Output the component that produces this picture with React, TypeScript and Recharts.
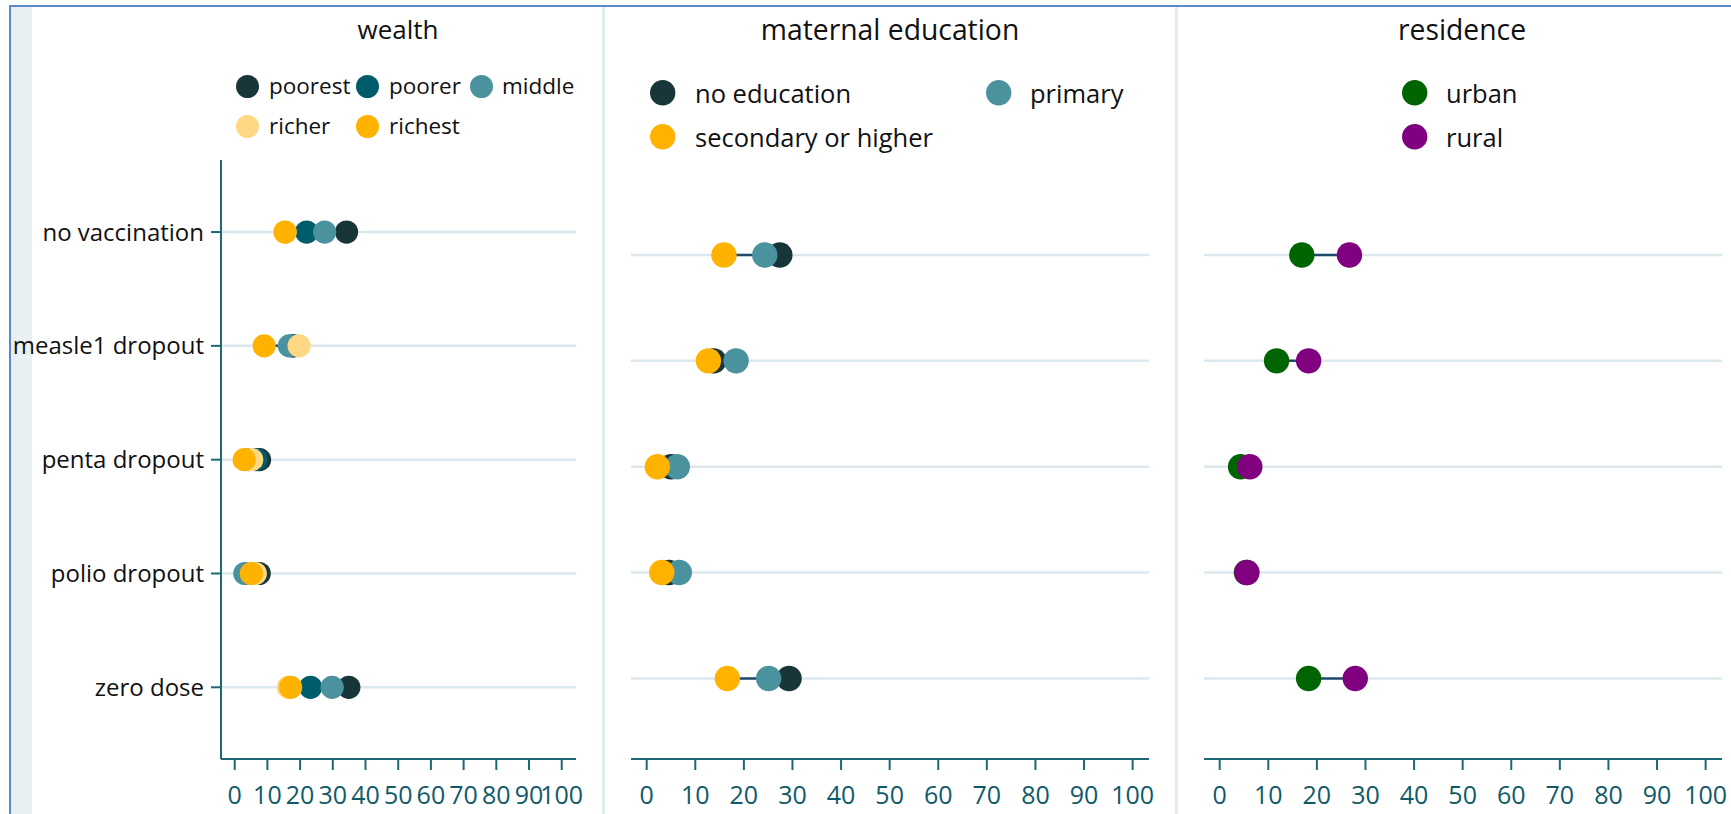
import React from "react";
import { ScatterChart, Scatter, XAxis, YAxis, CartesianGrid } from "recharts";

// ---------- data ----------
const CATEGORIES = ["no vaccination", "measle1 dropout", "penta dropout", "polio dropout", "zero dose"];
const ROW_TICKS = [0, 1, 2, 3, 4];
const X_TICKS = [0, 10, 20, 30, 40, 50, 60, 70, 80, 90, 100];

// wealth quintiles
const POOREST = [34.2, 18.0, 7.6, 7.5, 34.9];
const POORER = [22.0, 17.6, 6.5, 6.0, 23.2];
const MIDDLE = [27.5, 16.7, 4.5, 3.1, 29.8];
const RICHER = [15.4, 19.7, 5.2, 6.3, 16.4];
const RICHEST = [15.4, 9.0, 2.9, 5.1, 17.1];

// maternal education
const NO_EDUCATION = [27.4, 13.8, 5.0, 4.6, 29.3];
const PRIMARY = [24.3, 18.4, 6.3, 6.7, 25.1];
const SECONDARY = [15.9, 12.7, 2.2, 3.1, 16.6];

// residence
const URBAN = [16.9, 11.7, 4.3, 5.5, 18.3];
const RURAL = [26.7, 18.3, 6.2, 5.6, 27.9];

// ---------- styles ----------
const FONT = "'Open Sans', 'Noto Sans', sans-serif";
const AXIS = "#1d6876";
const TICK_TEXT = "#0f5a68";
const GRID = "#dde8ee";
const LINK = "#1f4a6e";

const C_POOREST = "#183539";
const C_POORER = "#005b6a";
const C_MIDDLE = "#4a929e";
const C_RICHER = "#ffd886";
const C_RICHEST = "#ffb300";
const C_URBAN = "#006400";
const C_RURAL = "#800080";

type Group = { name: string; color: string; values: number[] };

const WEALTH: Group[] = [
  { name: "poorest", color: C_POOREST, values: POOREST },
  { name: "poorer", color: C_POORER, values: POORER },
  { name: "middle", color: C_MIDDLE, values: MIDDLE },
  { name: "richer", color: C_RICHER, values: RICHER },
  { name: "richest", color: C_RICHEST, values: RICHEST },
];
const EDUCATION: Group[] = [
  { name: "no education", color: C_POOREST, values: NO_EDUCATION },
  { name: "primary", color: C_MIDDLE, values: PRIMARY },
  { name: "secondary or higher", color: C_RICHEST, values: SECONDARY },
];
const RESIDENCE: Group[] = [
  { name: "urban", color: C_URBAN, values: URBAN },
  { name: "rural", color: C_RURAL, values: RURAL },
];

const toPoints = (vals: number[]) => vals.map((v, i) => ({ x: v, y: i }));
const connectors = (groups: Group[]) =>
  CATEGORIES.map((_, i) => {
    const vals = groups.map((g) => g.values[i]);
    return [
      { x: Math.min(...vals), y: i },
      { x: Math.max(...vals), y: i },
    ];
  });

type PanelProps = {
  groups: Group[];
  left: number;
  right: number;
  top: number;
  xDomain: [number, number];
  yDomain: [number, number];
  showY: boolean;
  r: number;
};

function Panel({ groups, left, right, top, xDomain, yDomain, showY, r }: PanelProps) {
  const links = connectors(groups);
  return (
    <div style={{ position: "absolute", left: 0, top: 0 }}>
      <ScatterChart width={1731} height={814} margin={{ top, right, bottom: 5, left }}>
        <CartesianGrid vertical={false} syncWithTicks stroke={GRID} strokeWidth={2.5} />
        <XAxis
          type="number"
          dataKey="x"
          domain={xDomain}
          ticks={X_TICKS}
          allowDataOverflow
          interval={0}
          height={50}
          tickSize={11}
          tickMargin={16}
          axisLine={{ stroke: AXIS, strokeWidth: 2 }}
          tickLine={{ stroke: AXIS, strokeWidth: 2 }}
          tick={{ fill: TICK_TEXT, fontSize: 25, fontFamily: FONT }}
        />
        <YAxis
          type="number"
          dataKey="y"
          domain={yDomain}
          reversed
          ticks={ROW_TICKS}
          interval={0}
          allowDataOverflow
          hide={!showY}
          width={showY ? 221 : 0}
          tickSize={10}
          tickMargin={7}
          tickFormatter={(v: number) => CATEGORIES[v] ?? ""}
          axisLine={{ stroke: AXIS, strokeWidth: 2 }}
          tickLine={{ stroke: AXIS, strokeWidth: 2 }}
          tick={{ fill: "#111", fontSize: 24, fontFamily: FONT }}
        />
        {links.map((pts, i) => (
          <Scatter
            key={"link" + i}
            data={pts}
            line={{ stroke: LINK, strokeWidth: 2.5 }}
            lineType="joint"
            shape={() => <g />}
            isAnimationActive={false}
          />
        ))}
        {groups.map((g) => (
          <Scatter
            key={g.name}
            name={g.name}
            data={toPoints(g.values)}
            fill={g.color}
            isAnimationActive={false}
            shape={(p: any) => <circle cx={p.cx} cy={p.cy} r={r} fill={g.color} />}
          />
        ))}
      </ScatterChart>
    </div>
  );
}

function Title({ text, cx, baseline, fs }: { text: string; cx: number; baseline: number; fs: number }) {
  return (
    <div
      style={{
        position: "absolute",
        left: cx,
        top: baseline - 0.888 * fs,
        transform: "translateX(-50%)",
        fontFamily: FONT,
        fontSize: fs,
        lineHeight: `${fs}px`,
        color: "#111",
        whiteSpace: "nowrap",
      }}
    >
      {text}
    </div>
  );
}

function LegendItem({
  label,
  color,
  mx,
  my,
  tx,
  baseline,
  r,
  fs,
}: {
  label: string;
  color: string;
  mx: number;
  my: number;
  tx: number;
  baseline: number;
  r: number;
  fs: number;
}) {
  return (
    <>
      <svg
        style={{ position: "absolute", left: mx - r, top: my - r }}
        width={2 * r}
        height={2 * r}
      >
        <circle cx={r} cy={r} r={r} fill={color} />
      </svg>
      <div
        style={{
          position: "absolute",
          left: tx,
          top: baseline - 0.888 * fs,
          fontFamily: FONT,
          fontSize: fs,
          lineHeight: `${fs}px`,
          color: "#111",
          whiteSpace: "nowrap",
        }}
      >
        {label}
      </div>
    </>
  );
}

export default function App() {
  return (
    <div
      style={{
        position: "absolute",
        left: 0,
        top: 0,
        width: 1731,
        height: 814,
        background: "#ffffff",
        overflow: "hidden",
      }}
    >
      {/* frame */}
      <div style={{ position: "absolute", left: 9, top: 5, width: 1722, height: 2, background: "#5a8acb" }} />
      <div style={{ position: "absolute", left: 9, top: 5, width: 2, height: 809, background: "#5a8acb" }} />
      <div style={{ position: "absolute", left: 11, top: 7, width: 21, height: 807, background: "#e8f0f2" }} />
      {/* panel separators */}
      <div style={{ position: "absolute", left: 602, top: 7, width: 3, height: 807, background: "#e2ecf0" }} />
      <div style={{ position: "absolute", left: 1175, top: 7, width: 3, height: 807, background: "#e2ecf0" }} />

      <Panel
        groups={WEALTH}
        left={0}
        right={1731 - 576}
        top={160}
        xDomain={[-4.19, 104.37]}
        yDomain={[-0.633, 4.63]}
        showY
        r={11.6}
      />
      <Panel
        groups={EDUCATION}
        left={631}
        right={1731 - 1149}
        top={174}
        xDomain={[-3.23, 103.37]}
        yDomain={[-0.765, 4.761]}
        showY={false}
        r={12.7}
      />
      <Panel
        groups={RESIDENCE}
        left={1204}
        right={1731 - 1722}
        top={174}
        xDomain={[-3.23, 103.37]}
        yDomain={[-0.765, 4.761]}
        showY={false}
        r={12.7}
      />

      <Title text="wealth" cx={398} baseline={39} fs={26} />
      <Title text="maternal education" cx={890} baseline={40} fs={28.3} />
      <Title text="residence" cx={1462} baseline={40} fs={28.3} />

      {/* wealth legend */}
      <LegendItem label="poorest" color={C_POOREST} mx={247} my={86} tx={269} baseline={94.5} r={11.5} fs={22.5} />
      <LegendItem label="poorer" color={C_POORER} mx={367} my={86} tx={389} baseline={94.5} r={11.5} fs={22.5} />
      <LegendItem label="middle" color={C_MIDDLE} mx={481} my={86} tx={502} baseline={94.5} r={11.5} fs={22.5} />
      <LegendItem label="richer" color={C_RICHER} mx={247} my={126} tx={269} baseline={134.5} r={11.5} fs={22.5} />
      <LegendItem label="richest" color={C_RICHEST} mx={367} my={126} tx={389} baseline={134.5} r={11.5} fs={22.5} />

      {/* education legend */}
      <LegendItem label="no education" color={C_POOREST} mx={663} my={93} tx={695} baseline={104} r={12.7} fs={25.5} />
      <LegendItem label="primary" color={C_MIDDLE} mx={999} my={93} tx={1030} baseline={104} r={12.7} fs={25.5} />
      <LegendItem label="secondary or higher" color={C_RICHEST} mx={663} my={137} tx={695} baseline={147.5} r={12.7} fs={25.5} />

      {/* residence legend */}
      <LegendItem label="urban" color={C_URBAN} mx={1415} my={93} tx={1446} baseline={104} r={12.7} fs={25.5} />
      <LegendItem label="rural" color={C_RURAL} mx={1415} my={137} tx={1446} baseline={147.5} r={12.7} fs={25.5} />
    </div>
  );
}
